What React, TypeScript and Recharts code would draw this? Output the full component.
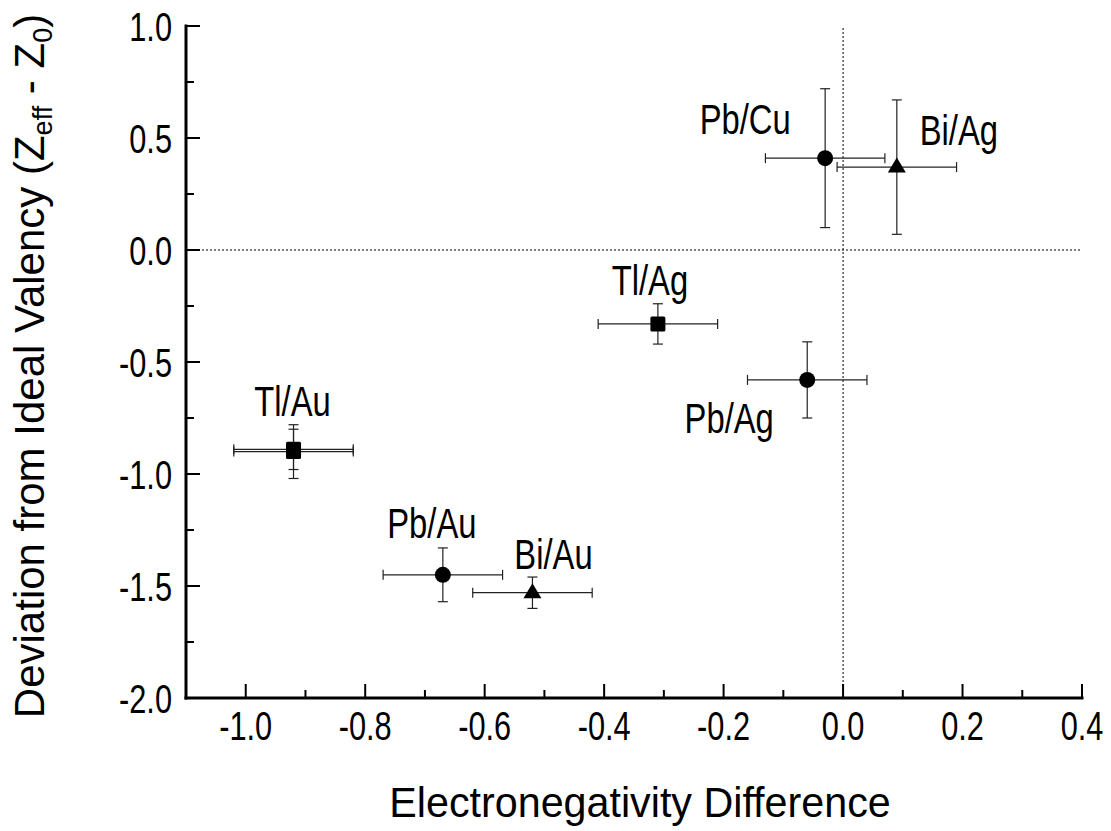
import { ScatterChart, Scatter, XAxis, YAxis, ErrorBar, ReferenceLine, Label } from 'recharts'

const FONT = "'Liberation Sans', Arial, sans-serif"

// Pb alloys (circles)
const pbNames = ['Pb/Cu', 'Pb/Ag', 'Pb/Au']
const pbX = [-0.03, -0.06, -0.67]
const pbY = [0.41, -0.58, -1.45]
const pbXErr = [0.1, 0.1, 0.1]
const pbYErr = [0.31, 0.17, 0.12]

// Bi alloys (triangles)
const biNames = ['Bi/Ag', 'Bi/Au']
const biX = [0.09, -0.52]
const biY = [0.37, -1.53]
const biXErr = [0.1, 0.1]
const biYErr = [0.3, 0.07]

// Tl alloys (squares), Tl/Au measured twice
const tlNames = ['Tl/Ag', 'Tl/Au', 'Tl/Au']
const tlX = [-0.31, -0.92, -0.92]
const tlY = [-0.33, -0.89, -0.9]
const tlXErr = [0.1, 0.1, 0.1]
const tlYErr = [0.09, 0.09, 0.12]

const xTicks = [-1.0, -0.9, -0.8, -0.7, -0.6, -0.5, -0.4, -0.3, -0.2, -0.1, 0.0, 0.1, 0.2, 0.3, 0.4]
const yTicks = [-2.0, -1.75, -1.5, -1.25, -1.0, -0.75, -0.5, -0.25, 0.0, 0.25, 0.5, 0.75, 1.0]

// where each name label sits relative to its marker (px)
const labelOffsets: Record<string, [number, number]> = {
  'Pb/Cu': [-80, -24],
  'Bi/Ag': [62, -22],
  'Tl/Ag': [-8, -29],
  'Pb/Ag': [-78, 53],
  'Tl/Au': [-1, -33],
  'Pb/Au': [-11, -37],
  'Bi/Au': [21, -24],
}

const build = (names: string[], xs: number[], ys: number[], exs: number[], eys: number[]) =>
  names.map((n, i) => ({
    name: n,
    label: names.indexOf(n) === i ? n : '',
    x: xs[i],
    y: ys[i],
    ex: exs[i],
    ey: eys[i],
  }))

const pbData = build(pbNames, pbX, pbY, pbXErr, pbYErr)
const biData = build(biNames, biX, biY, biXErr, biYErr)
const tlData = build(tlNames, tlX, tlY, tlXErr, tlYErr)

const isMajorX = (v: number) => Math.abs(Math.round(v * 10)) % 2 === 0
const isMajorY = (v: number) => Math.abs(Math.round(v * 4)) % 2 === 0

// condensed text: the original uses a narrow face
const Txt = ({ x, y, sx = 0.76, size = 42, anchor = 'middle', rotate = 0, children }: any) => (
  <text
    transform={`translate(${x},${y}) rotate(${rotate}) scale(${sx},1)`}
    x={0}
    y={0}
    textAnchor={anchor}
    fontSize={size}
    fontFamily={FONT}
    fill="#000"
  >
    {children}
  </text>
)

const BottomTick = (props: any) => {
  const { x, y, payload } = props
  const major = isMajorX(payload.value)
  return (
    <g>
      <line x1={x} y1={y} x2={x} y2={y - (major ? 14 : 8)} stroke="#000" strokeWidth={2} />
      {major && (
        <Txt x={x} y={y + 42} size={41} sx={0.75}>
          {payload.value.toFixed(1)}
        </Txt>
      )}
    </g>
  )
}

const TopTick = (props: any) => {
  const { x, y, payload } = props
  const major = isMajorX(payload.value)
  return <line x1={x} y1={y} x2={x} y2={y + (major ? 14 : 8)} stroke="#000" strokeWidth={2} />
}

const LeftTick = (props: any) => {
  const { x, y, payload } = props
  const major = isMajorY(payload.value)
  return (
    <g>
      <line x1={x} y1={y} x2={x + (major ? 14 : 8)} y2={y} stroke="#000" strokeWidth={2} />
      {major && (
        <Txt x={x - 14} y={y + 15} size={41} sx={0.75} anchor="end">
          {payload.value.toFixed(1)}
        </Txt>
      )}
    </g>
  )
}

const RightTick = (props: any) => {
  const { x, y, payload } = props
  const major = isMajorY(payload.value)
  return <line x1={x} y1={y} x2={x - (major ? 14 : 8)} y2={y} stroke="#000" strokeWidth={2} />
}

const nameLabel = (cx: number, cy: number, label: string) => {
  const off = labelOffsets[label]
  if (!label || !off) return null
  return (
    <Txt x={cx + off[0]} y={cy + off[1]} size={42} sx={0.78}>
      {label}
    </Txt>
  )
}

const CircleShape = (props: any) => {
  const { cx, cy, payload } = props
  return (
    <g>
      <circle cx={cx} cy={cy} r={8} fill="#000" />
      {nameLabel(cx, cy, payload.label)}
    </g>
  )
}

const TriangleShape = (props: any) => {
  const { cx, cy, payload } = props
  return (
    <g>
      <polygon points={`${cx},${cy - 9.5} ${cx + 9},${cy + 5.5} ${cx - 9},${cy + 5.5}`} fill="#000" />
      {nameLabel(cx, cy, payload.label)}
    </g>
  )
}

const SquareShape = (props: any) => {
  const { cx, cy, payload } = props
  return (
    <g>
      <rect x={cx - 7.5} y={cy - 7.5} width={15} height={15} rx={1.5} fill="#000" />
      {nameLabel(cx, cy, payload.label)}
    </g>
  )
}

const axisLine = { stroke: '#000', strokeWidth: 3, strokeLinecap: 'square' as const }

const errorBars = [
  <ErrorBar key="ex" dataKey="ex" direction="x" width={5} stroke="#222" strokeWidth={1.2} />,
  <ErrorBar key="ey" dataKey="ey" direction="y" width={5} stroke="#222" strokeWidth={1.2} />,
]

export default function App() {
  return (
    <div style={{ position: 'absolute', left: 0, top: 0, background: '#fff' }}>
      <ScatterChart width={1111} height={831} margin={{ top: 26, right: 29, bottom: 0, left: 0 }}>
        <XAxis
          type="number"
          dataKey="x"
          domain={[-1.1, 0.4]}
          allowDataOverflow
          ticks={xTicks}
          interval={0}
          height={133}
          tickSize={0}
          tickMargin={0}
          tickLine={false}
          axisLine={axisLine}
          tick={BottomTick}
        >
          <Label
            content={() => (
              <Txt x={640} y={817} size={43} sx={0.96}>
                Electronegativity Difference
              </Txt>
            )}
          />
        </XAxis>
        <XAxis
          xAxisId="top"
          orientation="top"
          type="number"
          dataKey="x"
          domain={[-1.1, 0.4]}
          allowDataOverflow
          ticks={xTicks}
          interval={0}
          height={0}
          tickSize={0}
          tickMargin={0}
          tickLine={false}
          axisLine={axisLine}
          tick={TopTick}
        />
        <YAxis
          type="number"
          dataKey="y"
          domain={[-2, 1]}
          allowDataOverflow
          ticks={yTicks}
          interval={0}
          width={186}
          tickSize={0}
          tickMargin={0}
          tickLine={false}
          axisLine={axisLine}
          tick={LeftTick}
        >
          <Label
            content={() => (
              <Txt x={44} y={366} size={42} sx={1} rotate={-90}>
                Deviation from Ideal Valency (Z
                <tspan fontSize={27} dy={8}>
                  eff
                </tspan>
                <tspan dy={-8}> - Z</tspan>
                <tspan fontSize={27} dy={8}>
                  0
                </tspan>
                <tspan dy={-8}>)</tspan>
              </Txt>
            )}
          />
        </YAxis>
        <YAxis
          yAxisId="right"
          orientation="right"
          type="number"
          dataKey="y"
          domain={[-2, 1]}
          allowDataOverflow
          ticks={yTicks}
          interval={0}
          width={0}
          tickSize={0}
          tickMargin={0}
          tickLine={false}
          axisLine={axisLine}
          tick={RightTick}
        />
        <ReferenceLine x={0} stroke="#000" strokeWidth={1} strokeDasharray="2 2" />
        <ReferenceLine y={0} stroke="#000" strokeWidth={1} strokeDasharray="2 2" />
        <Scatter data={pbData} shape={CircleShape} isAnimationActive={false}>
          {errorBars}
        </Scatter>
        <Scatter data={biData} shape={TriangleShape} isAnimationActive={false}>
          {errorBars}
        </Scatter>
        <Scatter data={tlData} shape={SquareShape} isAnimationActive={false}>
          {errorBars}
        </Scatter>
      </ScatterChart>
    </div>
  )
}
